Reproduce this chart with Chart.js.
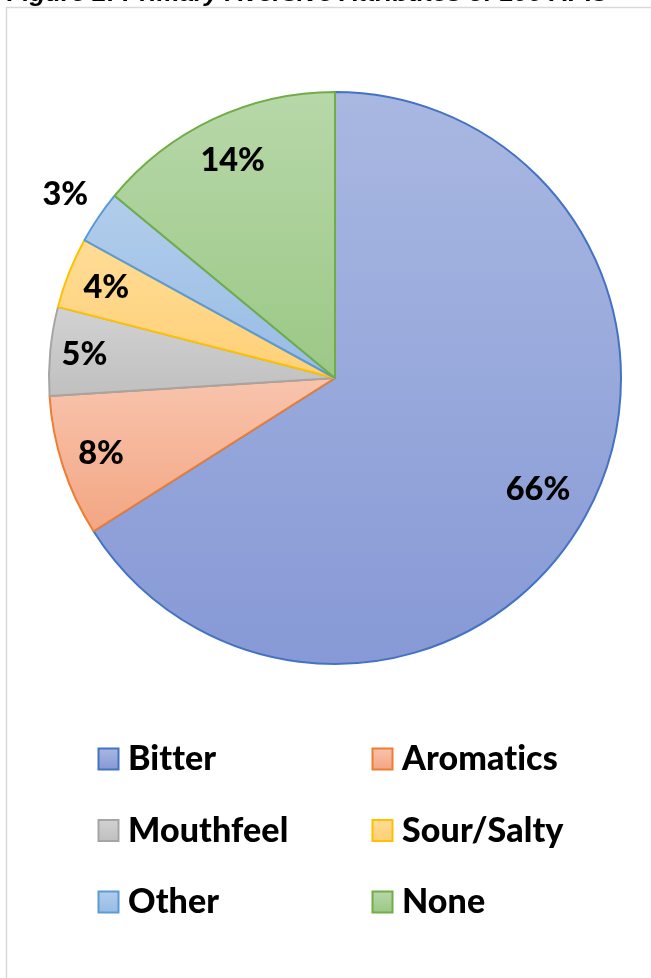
<!DOCTYPE html>
<html>
<head>
<meta charset="utf-8">
<script src="https://cdn.jsdelivr.net/npm/chart.js@4/dist/chart.umd.min.js"></script>
<style>
  html, body { margin: 0; padding: 0; background: #fff; }
  canvas { display: block; }
</style>
</head>
<body>
<canvas id="chart-attributes" width="651" height="978"></canvas>
<script>
const title = 'Figure 2: Primary Aversive Attributes of 100 APIs';
const labels = ['Bitter', 'Aromatics', 'Mouthfeel', 'Sour/Salty', 'Other', 'None'];
const shares = [66, 8, 5, 4, 3, 14];

// slice fill runs light (top) to dark (bottom), outline in the solid theme colour
const topColors = ['#a9b8e1', '#f8c4ad', '#d2d2d2', '#ffdc96', '#b2cdeb', '#b7d8a9'];
const bottomColors = ['#8799d6', '#f3a683', '#c0c0c0', '#ffd077', '#98bce5', '#9cc886'];
const edgeColors = ['#4472c4', '#ed7d31', '#a5a5a5', '#ffc000', '#5b9bd5', '#70ad47'];

const pctFont = '900 32.5px Lato';
const legendFont = '900 34px Lato';

function sum(arr) { return arr.reduce((a, b) => a + b, 0); }

function sliceFill(context) {
  const chart = context.chart;
  const area = chart.chartArea;
  const i = context.dataIndex;
  if (!area) return topColors[i];
  const cx = (area.left + area.right) / 2;
  const cy = (area.top + area.bottom) / 2;
  const r = Math.min(area.width, area.height) / 2;
  const total = sum(shares);
  const a0 = -Math.PI / 2 + sum(shares.slice(0, i)) / total * 2 * Math.PI;
  const a1 = a0 + shares[i] / total * 2 * Math.PI;
  const ys = [cy, cy + r * Math.sin(a0), cy + r * Math.sin(a1)];
  for (const t of [-Math.PI / 2, Math.PI / 2, 3 * Math.PI / 2]) {
    if (t >= a0 && t <= a1) ys.push(cy + r * Math.sin(t));
  }
  const g = chart.ctx.createLinearGradient(0, Math.min(...ys), 0, Math.max(...ys));
  g.addColorStop(0, topColors[i]);
  g.addColorStop(1, bottomColors[i]);
  return g;
}

// frame and the (clipped) figure caption above it
const frame = {
  id: 'frame',
  beforeDraw(chart) {
    const ctx = chart.ctx;
    ctx.save();
    ctx.fillStyle = '#fff';
    ctx.fillRect(0, 0, chart.width, chart.height);
    ctx.font = 'italic bold 24px "Liberation Sans"';
    const w = ctx.measureText(title).width;
    ctx.fillStyle = '#000';
    ctx.textBaseline = 'alphabetic';
    ctx.translate(7, 1);
    ctx.scale(600 / w, 1);
    ctx.fillText(title, 0, 0);
    ctx.restore();

    ctx.save();
    ctx.strokeStyle = '#d9d9d9';
    ctx.lineWidth = 1.5;
    ctx.beginPath();
    ctx.moveTo(6.5, chart.height + 2);
    ctx.lineTo(6.5, 7.5);
    ctx.lineTo(chart.width + 2, 7.5);
    ctx.stroke();
    ctx.restore();
  }
};

// percentage labels placed along each slice's mid angle
const sliceLabels = {
  id: 'sliceLabels',
  afterDatasetsDraw(chart, args, opts) {
    const ctx = chart.ctx;
    const arcs = chart.getDatasetMeta(0).data;
    ctx.save();
    ctx.font = pctFont;
    ctx.fillStyle = '#000';
    ctx.textAlign = 'center';
    ctx.textBaseline = 'middle';
    arcs.forEach((arc, i) => {
      const mid = (arc.startAngle + arc.endAngle) / 2;
      const rr = arc.outerRadius * opts.radius[i];
      ctx.fillText(shares[i] + '%', arc.x + Math.cos(mid) * rr, arc.y + Math.sin(mid) * rr);
    });
    ctx.restore();
  }
};

// two-column legend under the pie
const gridLegend = {
  id: 'gridLegend',
  afterDraw(chart, args, opts) {
    const ctx = chart.ctx;
    ctx.save();
    ctx.font = legendFont;
    ctx.letterSpacing = '0.1px'; // keeps "ti" from joining into a ligature
    ctx.textBaseline = 'alphabetic';
    labels.forEach((name, i) => {
      const col = i % 2, row = Math.floor(i / 2);
      const x = opts.columns[col];
      const base = opts.top + row * opts.rowGap;
      const bw = 20, bh = 21;
      const bx = x, by = base - 22;
      const g = ctx.createLinearGradient(0, by, 0, by + bh);
      g.addColorStop(0, topColors[i]);
      g.addColorStop(1, bottomColors[i]);
      ctx.fillStyle = g;
      ctx.fillRect(bx, by, bw, bh);
      ctx.strokeStyle = edgeColors[i];
      ctx.lineWidth = 2;
      ctx.strokeRect(bx + 0.5, by + 0.5, bw, bh);
      ctx.fillStyle = '#000';
      ctx.fillText(name, x + 30, base);
    });
    ctx.restore();
  }
};

new Chart(document.getElementById('chart-attributes'), {
  type: 'pie',
  data: {
    labels: labels,
    datasets: [{
      data: shares,
      backgroundColor: sliceFill,
      borderColor: edgeColors,
      borderWidth: 2
    }]
  },
  options: {
    responsive: false,
    animation: false,
    layout: { padding: { left: 48, right: 29, top: 91, bottom: 313 } },
    plugins: {
      legend: { display: false },
      tooltip: { enabled: false },
      sliceLabels: { radius: [0.81, 0.86, 0.88, 0.86, 1.14, 0.84] },
      gridLegend: { columns: [98, 372], top: 770, rowGap: 71.5 }
    }
  },
  plugins: [frame, sliceLabels, gridLegend]
});
</script>
</body>
</html>
